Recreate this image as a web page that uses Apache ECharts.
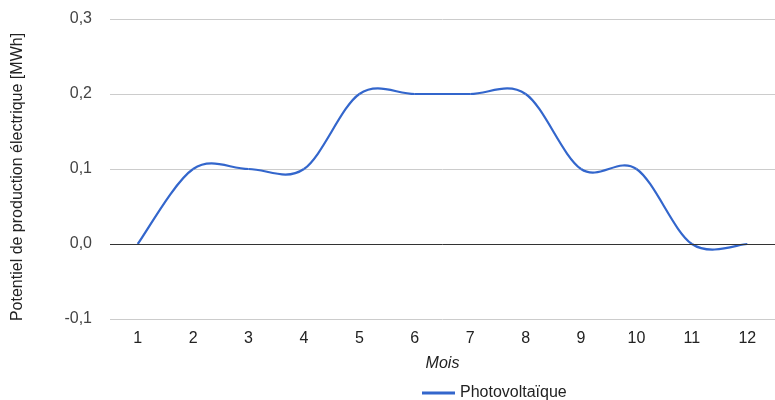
<!DOCTYPE html>
<html>
<head>
<meta charset="utf-8">
<script src="https://cdn.jsdelivr.net/npm/echarts@6/dist/echarts.min.js"></script>
<style>html,body{margin:0;padding:0;background:#fff}#c{width:775px;height:400px}</style>
</head>
<body>
<div id="c"></div>
<script>
const months = ['1','2','3','4','5','6','7','8','9','10','11','12'];
const photovoltaique = [0, 0.1, 0.1, 0.1, 0.2, 0.2, 0.2, 0.2, 0.1, 0.1, 0, 0];
const seriesName = 'Photovoltaïque';
const yTitle = 'Potentiel de production électrique [MWh]';
const xTitle = 'Mois';

const chart = echarts.init(document.getElementById('c'));
const font = 'Liberation Sans, Arial, sans-serif';
const lineColor = '#3366cc';

// Catmull-Rom style smoothing (like the original's "function" curve), through the axis scales
function renderCurve(params, api) {
  if (params.dataIndex !== 0) return null;
  const pts = photovoltaique.map((v, i) => api.coord([i, v]));
  const n = pts.length;
  const children = [];
  for (let i = 0; i < n - 1; i++) {
    const p0 = pts[Math.max(i - 1, 0)], p1 = pts[i], p2 = pts[i + 1], p3 = pts[Math.min(i + 2, n - 1)];
    children.push({
      type: 'bezierCurve',
      shape: {
        x1: p1[0], y1: p1[1], x2: p2[0], y2: p2[1],
        cpx1: p1[0] + (p2[0] - p0[0]) / 6, cpy1: p1[1] + (p2[1] - p0[1]) / 6,
        cpx2: p2[0] - (p3[0] - p1[0]) / 6, cpy2: p2[1] - (p3[1] - p1[1]) / 6
      },
      style: {stroke: lineColor, lineWidth: 2.2, fill: null},
      silent: true
    });
  }
  return {type: 'group', children};
}

chart.setOption({
  animation: false,
  grid: {left: 110, right: 0, top: 19, bottom: 81},
  legend: {
    data: [{name: seriesName, icon: 'rect', itemStyle: {color: lineColor}}],
    left: 417, top: 380, itemWidth: 33, itemHeight: 3, itemGap: 6,
    textStyle: {fontFamily: font, fontSize: 16, color: '#222'}
  },
  xAxis: {
    type: 'category', data: months, boundaryGap: true,
    axisLine: {show: false}, axisTick: {show: false},
    axisLabel: {fontFamily: font, fontSize: 16, color: '#222', margin: 12},
    name: xTitle, nameLocation: 'middle', nameGap: 37,
    nameTextStyle: {fontFamily: font, fontSize: 16, fontStyle: 'italic', color: '#222'}
  },
  yAxis: {
    type: 'value', min: -0.1, max: 0.3, interval: 0.1,
    axisLine: {show: false}, axisTick: {show: false},
    splitLine: {lineStyle: {color: '#cccccc', width: 1}},
    axisLabel: {fontFamily: font, fontSize: 16, color: '#444', margin: 18,
      formatter: v => v.toFixed(1).replace('.', ',')},
    name: yTitle, nameLocation: 'middle', nameGap: 84,
    nameTextStyle: {fontFamily: font, fontSize: 16, color: '#222', padding: [0, 16, 0, 0]}
  },
  series: [{
    name: seriesName, type: 'custom', data: photovoltaique.map((v, i) => [i, v]),
    encode: {x: 0, y: 1},
    itemStyle: {color: lineColor},
    renderItem: renderCurve,
    markLine: {silent: true, symbol: 'none', label: {show: false},
      lineStyle: {color: '#333', width: 1, type: 'solid'}, data: [{yAxis: 0}]}
  }]
});
</script>
</body>
</html>
